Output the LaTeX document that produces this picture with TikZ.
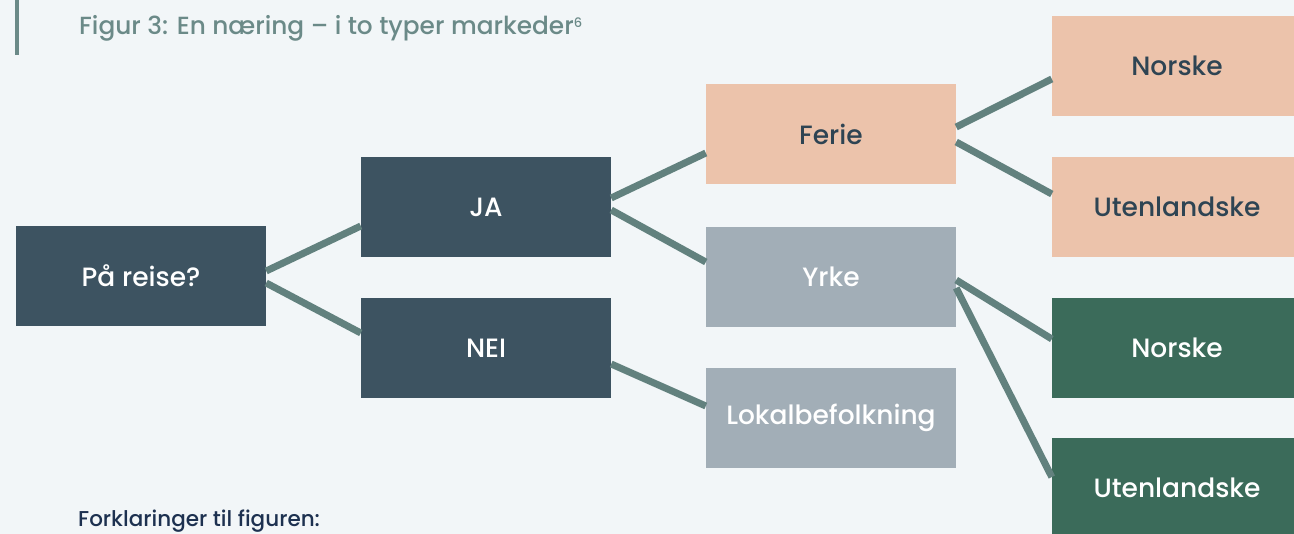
\documentclass[tikz,border=0pt]{standalone}
\usepackage{fontspec}
\setmainfont{Poppins}
\newfontfamily\popmed{Poppins Medium}
\definecolor{bg}{HTML}{F2F6F8}
\definecolor{navy}{HTML}{3D5361}
\definecolor{peach}{HTML}{ECC3AB}
\definecolor{slate}{HTML}{A2AEB7}
\definecolor{pine}{HTML}{3B6B5A}
\definecolor{link}{HTML}{62817E}
\definecolor{titlecol}{HTML}{6B8A88}
\definecolor{inkdark}{HTML}{2E4453}
\definecolor{footcol}{HTML}{1D3150}
\tikzset{
  box/.style={rectangle, inner sep=0pt, minimum width=250pt, minimum height=100pt,
    font=\popmed\fontsize{26.5}{31}\selectfont},
  darkbox/.style={box, fill=navy, text=white},
  peachbox/.style={box, fill=peach, text=inkdark},
  greybox/.style={box, fill=slate, text=white},
  greenbox/.style={box, fill=pine, text=white},
  connector/.style={draw=link, line width=7pt},
}
\begin{document}
\begin{tikzpicture}[x=1pt,y=-1pt]
  \clip (0,0) rectangle (1294,534);
  \fill[bg] (0,0) rectangle (1294,534);
  % heading with accent bar
  \fill[titlecol] (15,0) rectangle (19,55);
  \node[anchor=base west, inner sep=0pt, text=titlecol, font=\popmed\fontsize{24.8}{30}\selectfont] (title)
    at (79,35) {Figur 3: En næring – i to typer markeder\raisebox{7pt}{\fontsize{13}{15}\selectfont 6}};
  % boxes
  \node[darkbox] (pa) at (141,276) {På reise?};
  \node[darkbox] (ja) at (486,207) {JA};
  \node[darkbox] (nei) at (486,348) {NEI};
  \node[peachbox] (ferie) at (831,134) {Ferie};
  \node[greybox] (yrke) at (831,277) {Yrke};
  \node[greybox] (lokal) at (831,418) {Lokalbefolkning};
  \node[peachbox] (fn) at (1177,66) {Norske};
  \node[peachbox] (fu) at (1177,207) {Utenlandske};
  \node[greenbox] (yn) at (1177,348) {Norske};
  \node[greenbox] (yu) at (1177,488) {Utenlandske};
  % connectors
  \draw[connector] ([yshift=5pt]pa.east) -- ([yshift=-19pt]ja.west);
  \draw[connector] ([yshift=-7pt]pa.east) -- ([yshift=15pt]nei.west);
  \draw[connector] ([yshift=9pt]ja.east) -- ([yshift=-19pt]ferie.west);
  \draw[connector] ([yshift=-3pt]ja.east) -- ([yshift=15pt]yrke.west);
  \draw[connector] ([yshift=-16pt]nei.east) -- ([yshift=12pt]lokal.west);
  \draw[connector] ([yshift=7pt]ferie.east) -- ([yshift=-13pt]fn.west);
  \draw[connector] ([yshift=-8pt]ferie.east) -- ([yshift=13pt]fu.west);
  \draw[connector] ([yshift=-3pt]yrke.east) -- ([yshift=9pt]yn.west);
  \draw[connector] ([yshift=-11pt]yrke.east) -- ([yshift=11pt]yu.west);
  % footnote heading
  \node[anchor=base west, inner sep=0pt, text=footcol, font=\popmed\fontsize{21.5}{26}\selectfont] (foot)
    at (78,526) {Forklaringer til figuren:};
\end{tikzpicture}
\end{document}
